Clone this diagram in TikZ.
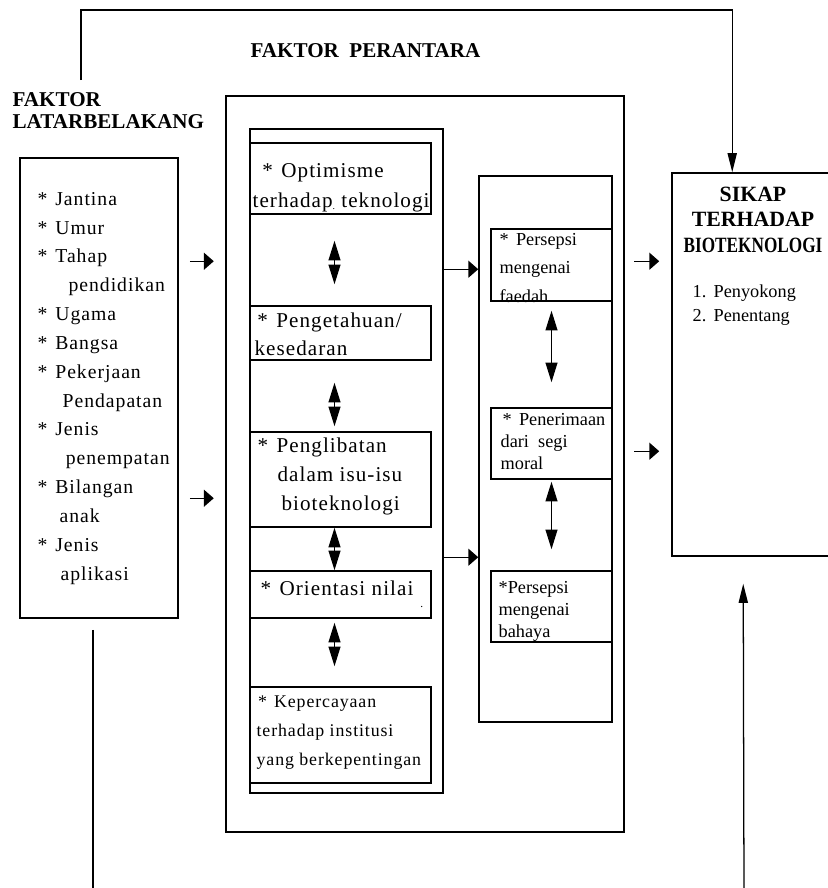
\documentclass[tikz,border=0pt]{standalone}
\usepackage{fontspec}
\setmainfont{Liberation Serif}
\newfontfamily\renggang[LetterSpace=5]{Liberation Serif}
\usetikzlibrary{arrows.meta,calc,fit}
\newcommand{\bintang}{*\hspace{.4em}}
\tikzset{
  kotak/.style={draw,line width=1.1pt,inner sep=0pt},
  teks/.style={anchor=base west,inner sep=0pt,align=left},
  judul/.style={teks,font=\bfseries\fontsize{15}{15.6}\selectfont},
  kiritks/.style={teks,font=\renggang\fontsize{15}{20.3}\selectfont},
  kanantks/.style={teks,font=\fontsize{13}{15.6}\selectfont},
  dobel/.style={{Triangle[length=14pt,width=8.5pt]}-{Triangle[length=14pt,width=8.5pt]}},
  pendek/.style={-{Triangle[length=7pt,width=12pt]}},
  panjang/.style={-{Triangle[length=13.5pt,width=6.5pt]}}
}
\begin{document}
\begin{tikzpicture}[x=0.025cm,y=-0.025cm,line width=0.9pt]
            %	\draw[help lines,step=1.25cm] (0,0) grid (828,888);
            \useasboundingbox (0,0) rectangle (828,888);
            \clip (0,0) rectangle (828,888);
            \node[judul] (latarH) at (12,128) {FAKTOR\\LATARBELAKANG};
            \node[judul] (antaraH) at (250,57) {FAKTOR\ \ PERANTARA};
            % kotak-kotak
            \node[kotak,fit={(20,158) (178,618)}] (latar) {};
            \node[kotak,fit={(226,96) (624,832)}] (antara) {};
            \node[kotak,fit={(250,129) (443,793)}] (kiri) {};
            \node[kotak,fit={(250,143) (431,214)}] (opt) {};
            \node[kotak,fit={(250,306) (431,360)}] (peng) {};
            \node[kotak,fit={(250,432) (431,527)}] (lib) {};
            \node[kotak,fit={(250,571) (431,618)}] (ori) {};
            \node[kotak,fit={(250,687) (431,783)}] (per) {};
            \node[kotak,fit={(479,176) (612,722)}] (kanan) {};
            \node[kotak,fit={(491,229) (612,301)}] (faedah) {};
            \node[kotak,fit={(491,408) (612,479)}] (ner) {};
            \node[kotak,fit={(491,571) (612,642)}] (bhy) {};
            \node[kotak,fit={(672,173) (845,556)}] (sikap) {};
            % teks (titik acuan = garis dasar baris terakhir)
            \node[teks,font=\renggang\fontsize{14}{20.5}\selectfont] (latarT) at (37,580)
              {\bintang Jantina\\ \bintang Umur\\ \bintang Tahap\\ \hspace*{22pt}pendidikan\\
               \bintang Ugama\\ \bintang Bangsa\\ \bintang Pekerjaan\\ \hspace*{17.8pt}Pendapatan\\
               \bintang Jenis\\ \hspace*{20pt}penempatan\\ \bintang Bilangan\\ \hspace*{15.6pt}anak\\
               \bintang Jenis\\ \hspace*{16.4pt}aplikasi};
            \node[kiritks,font=\renggang\fontsize{15}{21.3}\selectfont] (optT) at (252,207)
              {\hspace*{7pt}\bintang Optimisme\\ terhadap\raisebox{-2pt}{\scriptsize.} teknologi};
            \node[kiritks,font=\renggang\fontsize{15}{19.9}\selectfont] (pengT) at (254,355)
              {\hspace*{2pt}\bintang Pengetahuan/\\ kesedaran};
            \node[kiritks] (libT) at (257,510)
              {\bintang Penglibatan\\ \hspace*{14.2pt}dalam isu-isu\\ \hspace*{17pt}bioteknologi};
            \node[kiritks] (oriT) at (260,595)
              {\bintang Orientasi nilai\hspace{5pt}\raisebox{-9pt}{\footnotesize.}};
            \node[teks,font=\renggang\fontsize{12.7}{20.6}\selectfont] (perT) at (256,765)
              {\hspace*{1pt}\bintang Kepercayaan\\ terhadap institusi\\ yang berkepentingan};
            \node[kanantks,font=\fontsize{13}{20}\selectfont] (faedahT) at (499,302)
              {\bintang Persepsi\\ mengenai\\ faedah};
            \node[kanantks] (nerT) at (500,469)
              {\hspace*{1.4pt}\bintang Penerimaan\\ dari\ \ segi\\ moral};
            \node[kanantks] (bhyT) at (498,637) {*Persepsi\\ mengenai\\ bahaya};
            \node[anchor=base,inner sep=0pt,align=center,font=\bfseries\fontsize{15.5}{17.8}\selectfont] (sikapT) at (753,252)
              {SIKAP\\TERHADAP\\\scalebox{0.79}[1]{BIOTEKNOLOGI}};
            \node[teks,font=\fontsize{13}{17}\selectfont] (sikapL) at (692,321)
              {1.\hspace{.4em}Penyokong\\ 2.\hspace{.4em}Penentang};
            % anak panah
            \foreach \a/\b/\ga/\gb in {opt/peng/26/21,peng/lib/22/5,lib/ori/0/0,ori/per/4/20}
              \draw[dobel] ($(\a.south)+(-6,\ga)$) -- ($(\b.north)+(-6,-\gb)$);
            \foreach \a/\b/\ga/\gb in {faedah/ner/9/25,ner/bhy/2/21}
              \draw[dobel] ($(\a.south)+(0,\ga)$) -- ($(\b.north)+(0,-\gb)$);
            \foreach \dy in {104,341} \draw[pendek] ($(latar.north east)+(11,\dy)$) -- ++(24,0);
            \foreach \dy in {141,429} {
              \path ($(kiri.north east)+(0,\dy)$) coordinate (p);
              \draw[pendek] (p) -- (p -| kanan.west);
            }
            \foreach \dy in {89,279} \draw[pendek] ($(sikap.north west)+(-37,\dy)$) -- ++(25,0);
            \coordinate (atasA) at (81,80);
            \draw[panjang] (atasA) -- (81,10) -| ($(sikap.north west)+(61,0)$);
            \draw ($(latar.south)+(-6,11)$) -- (93,895);
            \draw[panjang] (744,895) -- ($(sikap.south west)+(72,27)$);
        \end{tikzpicture}
\end{document}
